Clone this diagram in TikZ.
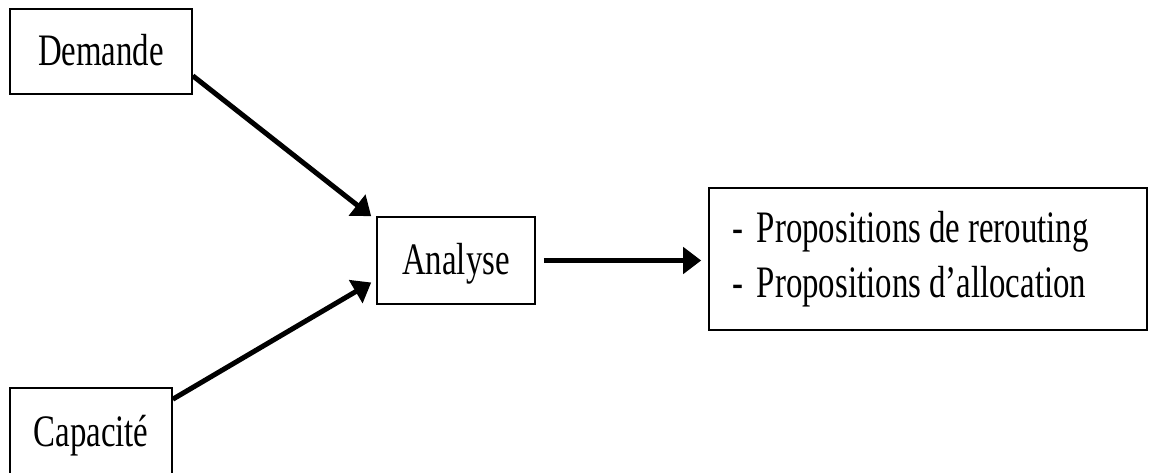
\documentclass[tikz,border=0pt]{standalone}
\usepackage{fontspec}
\setmainfont{Liberation Serif}[FakeStretch=0.73]
\usetikzlibrary{arrows.meta}
\newcommand\diagfont{\fontsize{45}{55}\selectfont}
\newcommand\narrowsp{\spaceskip=8pt\relax}

\tikzset{
  box/.style={draw, line width=1.6pt, inner sep=0pt, font=\diagfont},
  onetext/.style={text height=31pt, text depth=3pt},
  arr/.style={line width=5pt, -{Triangle[length=18pt,width=26pt]}}
}

\begin{document}
\begin{tikzpicture}[x=1pt,y=-1pt]
\useasboundingbox (0,0) rectangle (1150,473);
\node [box, onetext, minimum width=182pt, minimum height=85pt] (demande) at (101,51.5) {Demande};
\node [box, onetext, minimum width=162pt, minimum height=88pt] (capacite) at (91,432) {Capacité};
\node [box, onetext, minimum width=158pt, minimum height=87pt] (analyse) at (456,260.5) {Analyse};
\node [box, inner xsep=23pt, text width=392pt, minimum height=142pt, align=left] (props) at (928,259)
  {\narrowsp-\hspace{14pt}Propositions de rerouting\\-\hspace{14pt}Propositions d'allocation};
\draw [arr] ([yshift=19pt]demande.south east) -- ([xshift=-5pt]analyse.north west);
\draw [arr] ([yshift=-12pt]capacite.north east) -- ([xshift=-5pt,yshift=-22pt]analyse.west);
\draw [arr] ([xshift=8pt]analyse.east) -- ([xshift=-7pt]analyse.east -| props.west);
\end{tikzpicture}
\end{document}
